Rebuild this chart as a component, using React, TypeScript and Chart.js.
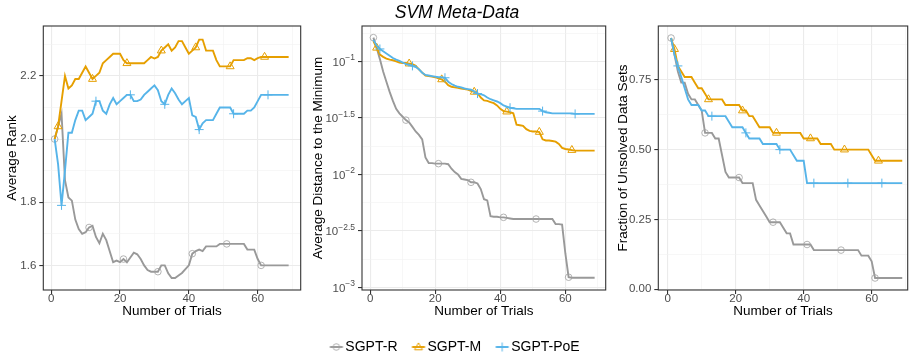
import React, { useEffect, useRef } from 'react';
import { Chart, registerables } from 'chart.js';

Chart.register(...registerables);

const FONT = '"Liberation Sans", Arial, Helvetica, sans-serif';
Chart.defaults.font.family = FONT;

// ---------------- data ----------------
const trials = [
  1, 2, 3, 4, 5, 6, 7, 8, 9, 10,
  11, 12, 13, 14, 15, 16, 17, 18, 19, 20,
  21, 22, 23, 24, 25, 26, 27, 28, 29, 30,
  31, 32, 33, 34, 35, 36, 37, 38, 39, 40,
  41, 42, 43, 44, 45, 46, 47, 48, 49, 50,
  51, 52, 53, 54, 55, 56, 57, 58, 59, 60,
  61, 62, 63, 64, 65, 66, 67, 68, 69,
];

const seriesNames = ['SGPT-R', 'SGPT-M', 'SGPT-PoE'];

const markerTrialsR = [1, 11, 21, 31, 41, 51, 61];
const markerTrialsM = [2, 12, 22, 32, 42, 52, 62];
const markerTrialsPoE = [3, 13, 23, 33, 43, 53, 63];

// Panel 1: Average Rank
const rankR = [
  2.00, 2.04, 2.08, 1.87, 1.815, 1.805, 1.745, 1.715, 1.70, 1.705,
  1.72, 1.725, 1.69, 1.67, 1.70, 1.68, 1.645, 1.61, 1.615, 1.61,
  1.62, 1.61, 1.625, 1.64, 1.635, 1.62, 1.60, 1.585, 1.58, 1.58,
  1.58, 1.60, 1.60, 1.575, 1.56, 1.56, 1.568, 1.576, 1.588, 1.60,
  1.637, 1.645, 1.65, 1.645, 1.66, 1.66, 1.66, 1.66, 1.668, 1.668,
  1.668, 1.668, 1.668, 1.668, 1.668, 1.668, 1.65, 1.65, 1.65, 1.62,
  1.60, 1.60, 1.60, 1.60, 1.60, 1.60, 1.60, 1.60, 1.60,
];
const rankM = [
  2.00, 2.04, 2.12, 2.20, 2.16, 2.17, 2.19, 2.19, 2.21, 2.23,
  2.21, 2.19, 2.20, 2.21, 2.24, 2.25, 2.26, 2.27, 2.27, 2.27,
  2.25, 2.24, 2.24, 2.24, 2.24, 2.24, 2.24, 2.25, 2.26, 2.255,
  2.26, 2.28, 2.29, 2.30, 2.28, 2.29, 2.31, 2.31, 2.29, 2.27,
  2.28, 2.29, 2.315, 2.315, 2.28, 2.28, 2.28, 2.25, 2.23, 2.23,
  2.23, 2.23, 2.25, 2.25, 2.25, 2.25, 2.256, 2.256, 2.25, 2.256,
  2.26, 2.26, 2.26, 2.26, 2.26, 2.26, 2.26, 2.26, 2.26,
];
const rankPoE = [
  2.00, 1.92, 1.79, 1.90, 2.02, 2.02, 2.06, 2.09, 2.09, 2.06,
  2.07, 2.08, 2.12, 2.12, 2.09, 2.08, 2.11, 2.13, 2.11, 2.12,
  2.13, 2.14, 2.14, 2.12, 2.12, 2.125, 2.14, 2.15, 2.16, 2.17,
  2.155, 2.12, 2.11, 2.14, 2.16, 2.145, 2.125, 2.11, 2.12, 2.13,
  2.075, 2.07, 2.03, 2.05, 2.06, 2.06, 2.06, 2.08, 2.10, 2.10,
  2.10, 2.10, 2.08, 2.08, 2.08, 2.08, 2.09, 2.09, 2.10, 2.12,
  2.14, 2.14, 2.14, 2.14, 2.14, 2.14, 2.14, 2.14, 2.14,
];

// Panel 2: Average Distance to the Minimum (read as log10 of the distance)
const distLog10R = [
  -0.79, -0.88, -0.98, -1.09, -1.18, -1.27, -1.35, -1.42, -1.46, -1.49,
  -1.52, -1.54, -1.58, -1.62, -1.65, -1.69, -1.85, -1.90, -1.90, -1.905,
  -1.905, -1.905, -1.905, -1.91, -1.95, -1.98, -2.00, -2.04, -2.045, -2.05,
  -2.07, -2.07, -2.08, -2.13, -2.22, -2.23, -2.37, -2.375, -2.375, -2.38,
  -2.38, -2.385, -2.39, -2.395, -2.395, -2.395, -2.395, -2.395, -2.395, -2.395,
  -2.395, -2.395, -2.395, -2.395, -2.395, -2.395, -2.44, -2.44, -2.445, -2.70,
  -2.91, -2.915, -2.915, -2.915, -2.915, -2.915, -2.915, -2.915, -2.915,
];
const distLog10M = [
  -0.82, -0.88, -0.94, -0.96, -0.975, -0.985, -0.99, -1.00, -1.01, -1.015,
  -1.015, -1.02, -1.025, -1.04, -1.07, -1.10, -1.125, -1.13, -1.135, -1.14,
  -1.15, -1.16, -1.18, -1.21, -1.225, -1.23, -1.235, -1.24, -1.245, -1.25,
  -1.26, -1.27, -1.28, -1.32, -1.345, -1.35, -1.36, -1.37, -1.39, -1.42,
  -1.44, -1.445, -1.45, -1.46, -1.56, -1.565, -1.57, -1.60, -1.615, -1.62,
  -1.62, -1.625, -1.69, -1.70, -1.70, -1.705, -1.71, -1.73, -1.765, -1.775,
  -1.78, -1.785, -1.79, -1.79, -1.79, -1.79, -1.79, -1.79, -1.79,
];
const distLog10PoE = [
  -0.81, -0.86, -0.89, -0.91, -0.93, -0.95, -0.97, -0.985, -0.995, -1.01,
  -1.025, -1.03, -1.04, -1.05, -1.07, -1.10, -1.12, -1.125, -1.13, -1.135,
  -1.14, -1.14, -1.145, -1.18, -1.20, -1.215, -1.225, -1.23, -1.24, -1.245,
  -1.25, -1.265, -1.285, -1.29, -1.30, -1.32, -1.335, -1.345, -1.355, -1.37,
  -1.39, -1.40, -1.41, -1.415, -1.42, -1.42, -1.42, -1.42, -1.42, -1.42,
  -1.42, -1.42, -1.44, -1.45, -1.455, -1.46, -1.46, -1.46, -1.46, -1.46,
  -1.46, -1.46, -1.465, -1.465, -1.465, -1.465, -1.465, -1.465, -1.465,
];

// Panel 3: Fraction of Unsolved Data Sets
const fracR = [
  0.90, 0.84, 0.78, 0.74, 0.74, 0.70, 0.68, 0.68, 0.66, 0.64,
  0.56, 0.56, 0.56, 0.54, 0.54, 0.48, 0.42, 0.40, 0.40, 0.40,
  0.40, 0.38, 0.38, 0.38, 0.38, 0.32, 0.30, 0.28, 0.26, 0.24,
  0.24, 0.24, 0.24, 0.22, 0.20, 0.20, 0.16, 0.16, 0.16, 0.16,
  0.16, 0.16, 0.14, 0.14, 0.14, 0.14, 0.14, 0.14, 0.14, 0.14,
  0.14, 0.14, 0.14, 0.14, 0.14, 0.14, 0.12, 0.12, 0.12, 0.10,
  0.04, 0.04, 0.04, 0.04, 0.04, 0.04, 0.04, 0.04, 0.04,
];
const fracM = [
  0.90, 0.86, 0.80, 0.78, 0.76, 0.76, 0.76, 0.74, 0.72, 0.72,
  0.70, 0.68, 0.68, 0.68, 0.68, 0.68, 0.66, 0.66, 0.66, 0.66,
  0.66, 0.64, 0.64, 0.62, 0.62, 0.60, 0.58, 0.58, 0.58, 0.58,
  0.56, 0.56, 0.56, 0.56, 0.56, 0.56, 0.56, 0.56, 0.56, 0.54,
  0.54, 0.54, 0.54, 0.54, 0.52, 0.52, 0.52, 0.52, 0.50, 0.50,
  0.50, 0.50, 0.50, 0.50, 0.50, 0.50, 0.50, 0.50, 0.50, 0.48,
  0.46, 0.46, 0.46, 0.46, 0.46, 0.46, 0.46, 0.46, 0.46,
];
const fracPoE = [
  0.90, 0.84, 0.80, 0.76, 0.72, 0.68, 0.66, 0.66, 0.66, 0.64,
  0.64, 0.62, 0.62, 0.62, 0.62, 0.62, 0.62, 0.60, 0.58, 0.58,
  0.58, 0.58, 0.56, 0.54, 0.54, 0.54, 0.54, 0.52, 0.52, 0.52,
  0.52, 0.52, 0.50, 0.50, 0.50, 0.50, 0.48, 0.46, 0.46, 0.46,
  0.38, 0.38, 0.38, 0.38, 0.38, 0.38, 0.38, 0.38, 0.38, 0.38,
  0.38, 0.38, 0.38, 0.38, 0.38, 0.38, 0.38, 0.38, 0.38, 0.38,
  0.38, 0.38, 0.38, 0.38, 0.38, 0.38, 0.38, 0.38, 0.38,
];

// tick values
const xMajorTicks = [0, 20, 40, 60];
const xMinorTicks = [10, 30, 50, 70];
const rankMajorTicks = [1.6, 1.8, 2.0, 2.2];
const rankMinorTicks = [1.7, 1.9, 2.1, 2.3];
const distMajorExp = [-1, -1.5, -2, -2.5, -3];
const distMinorExp = [-0.75, -1.25, -1.75, -2.25, -2.75];
const fracMajorTicks = [0, 0.25, 0.5, 0.75];
const fracMinorTicks = [0.125, 0.375, 0.625, 0.875];

// ---------------- styles ----------------
const COL_R = '#999999';
const COL_M = '#E69F00';
const COL_POE = '#56B4E9';
const MARK_R = 'rgba(160,160,160,0.8)';
const TICK_COL = '#4D4D4D';
const TICK_FONT = 11.5;
const TITLE_FONT = 13.5;
const X_AXIS_H = 32;
const CANVAS_H = 322;
const PLOT_TOP = 26;

function mergeTicks(major: number[], minor: number[]) {
  return [
    ...major.map((v) => ({ value: v, m: true })),
    ...minor.map((v) => ({ value: v, m: false })),
  ].sort((a, b) => a.value - b.value);
}

function gridOpts() {
  return {
    color: (c: any) => (c.tick && c.tick.m ? '#EBEBEB' : '#F2F2F2'),
    lineWidth: (c: any) => (c.tick && c.tick.m ? 1.1 : 0.6),
    tickColor: (c: any) => (c.tick && c.tick.m ? '#333333' : 'rgba(0,0,0,0)'),
    tickWidth: 1.1,
    tickLength: 4,
    drawTicks: true,
  };
}

function xAxis(min: number, max: number) {
  return {
    type: 'linear',
    position: 'bottom',
    min,
    max,
    afterBuildTicks: (s: any) => {
      s.ticks = mergeTicks(xMajorTicks, xMinorTicks);
    },
    afterFit: (s: any) => {
      s.height = X_AXIS_H;
    },
    ticks: {
      autoSkip: false,
      maxRotation: 0,
      color: TICK_COL,
      font: { size: TICK_FONT },
      padding: -2,
      callback: (v: number, i: number, ts: any[]) => (ts[i] && ts[i].m ? String(v) : ''),
    },
    grid: gridOpts(),
    border: { display: false },
    title: {
      display: true,
      text: 'Number of Trials',
      color: '#000000',
      font: { size: TITLE_FONT },
      padding: { top: 0, bottom: 2.5 },
    },
  };
}

function yTitle(text: string, padTop: number) {
  return {
    display: true,
    text,
    color: '#000000',
    font: { size: TITLE_FONT },
    padding: { top: padTop, bottom: 0 },
  };
}

function makeDatasets(r: number[], m: number[], p: number[], conv: (v: number) => number) {
  const mk = (
    label: string,
    vals: number[],
    color: string,
    markColor: string,
    markers: number[],
    style: string,
    radius: number,
    order: number
  ) => ({
    label,
    data: trials.map((t, i) => ({ x: t, y: conv(vals[i]) })),
    borderColor: color,
    borderWidth: 1.9,
    tension: 0,
    fill: false,
    pointStyle: style,
    pointRadius: (c: any) => (markers.includes(trials[c.dataIndex]) ? radius : 0),
    pointHoverRadius: 0,
    pointBorderColor: markColor,
    pointBackgroundColor: 'rgba(0,0,0,0)',
    pointBorderWidth: 1,
    order,
  });
  return [
    mk(seriesNames[0], r, COL_R, MARK_R, markerTrialsR, 'circle', 3.3, 3),
    mk(seriesNames[1], m, COL_M, COL_M, markerTrialsM, 'triangle', 4.6, 2),
    mk(seriesNames[2], p, COL_POE, COL_POE, markerTrialsPoE, 'cross', 4.5, 1),
  ];
}

const panelBorder = {
  id: 'panelBorder',
  afterDraw(chart: any) {
    const { ctx, chartArea: a } = chart;
    ctx.save();
    ctx.strokeStyle = '#333333';
    ctx.lineWidth = 1.1;
    ctx.strokeRect(a.left, a.top, a.right - a.left, a.bottom - a.top);
    ctx.restore();
  },
};

const logTickLabels = {
  id: 'logTickLabels',
  afterDraw(chart: any) {
    const s = chart.scales.y;
    const ctx = chart.ctx;
    const xr = s.right - 4 - 3;
    ctx.save();
    ctx.fillStyle = TICK_COL;
    ctx.textBaseline = 'middle';
    ctx.textAlign = 'left';
    distMajorExp.forEach((e) => {
      const y = s.getPixelForValue(Math.pow(10, e));
      const expText = '\u2212' + String(Math.abs(e));
      ctx.font = `8.5px ${FONT}`;
      const ew = ctx.measureText(expText).width;
      ctx.font = `${TICK_FONT}px ${FONT}`;
      const bw = ctx.measureText('10').width;
      ctx.fillText('10', xr - ew - bw, y + 1);
      ctx.font = `8.5px ${FONT}`;
      ctx.fillText(expText, xr - ew, y - 3.5);
    });
    ctx.restore();
  },
};

function baseOptions(padRight: number) {
  return {
    animation: false,
    responsive: false,
    devicePixelRatio: 1,
    events: [],
    layout: { padding: { left: 0, top: PLOT_TOP, right: padRight, bottom: 0 } },
    plugins: { legend: { display: false }, tooltip: { enabled: false } },
  };
}

function keyImage(kind: string, line: string, mark: string) {
  const c = document.createElement('canvas');
  c.width = 16;
  c.height = 14;
  const g = c.getContext('2d') as CanvasRenderingContext2D;
  g.strokeStyle = line;
  g.lineWidth = 1.9;
  g.beginPath();
  g.moveTo(1.5, 7);
  g.lineTo(14.5, 7);
  g.stroke();
  g.strokeStyle = mark;
  g.lineWidth = 1;
  g.beginPath();
  if (kind === 'circle') {
    g.arc(8, 7, 3.3, 0, Math.PI * 2);
  } else if (kind === 'triangle') {
    const r = 4.6;
    for (let k = 0; k < 3; k++) {
      const a = (k * 2 * Math.PI) / 3;
      const px = 8 + Math.sin(a) * r;
      const py = 7.5 - Math.cos(a) * r;
      if (k === 0) g.moveTo(px, py);
      else g.lineTo(px, py);
    }
    g.closePath();
  } else {
    g.moveTo(8, 2.5);
    g.lineTo(8, 11.5);
    g.moveTo(3.5, 7);
    g.lineTo(12.5, 7);
  }
  g.stroke();
  return c;
}

export default function App() {
  const c1 = useRef<HTMLCanvasElement>(null);
  const c2 = useRef<HTMLCanvasElement>(null);
  const c3 = useRef<HTMLCanvasElement>(null);
  const cl = useRef<HTMLCanvasElement>(null);

  useEffect(() => {
    const charts: Chart[] = [];

    charts.push(
      new Chart(c1.current as HTMLCanvasElement, {
        type: 'line',
        data: { datasets: makeDatasets(rankR, rankM, rankPoE, (v) => v) as any },
        options: {
          ...baseOptions(2.3),
          scales: {
            x: xAxis(-2.3, 72.5),
            y: {
              type: 'linear',
              min: 1.522,
              max: 2.358,
              afterBuildTicks: (s: any) => {
                s.ticks = mergeTicks(rankMajorTicks, rankMinorTicks);
              },
              afterFit: (s: any) => {
                s.width = 43.3;
              },
              ticks: {
                autoSkip: false,
                color: TICK_COL,
                font: { size: TICK_FONT },
                padding: 3,
                callback: (v: number, i: number, ts: any[]) => (ts[i] && ts[i].m ? v.toFixed(1) : ''),
              },
              grid: gridOpts(),
              border: { display: false },
              title: yTitle('Average Rank', 4.2),
            },
          },
        } as any,
        plugins: [panelBorder],
      })
    );

    charts.push(
      new Chart(c2.current as HTMLCanvasElement, {
        type: 'line',
        data: { datasets: makeDatasets(distLog10R, distLog10M, distLog10PoE, (v) => Math.pow(10, v)) as any },
        options: {
          ...baseOptions(2.7),
          scales: {
            x: xAxis(-2.5, 72.4),
            y: {
              type: 'logarithmic',
              min: Math.pow(10, -3.023),
              max: Math.pow(10, -0.687),
              afterBuildTicks: (s: any) => {
                s.ticks = mergeTicks(
                  distMajorExp.map((e) => Math.pow(10, e)),
                  distMinorExp.map((e) => Math.pow(10, e))
                );
              },
              afterFit: (s: any) => {
                s.width = 57;
              },
              ticks: {
                autoSkip: false,
                color: TICK_COL,
                font: { size: TICK_FONT },
                padding: 3,
                callback: () => '',
              },
              grid: gridOpts(),
              border: { display: false },
              title: yTitle('Average Distance to the Minimum', 4.9),
            },
          },
        } as any,
        plugins: [panelBorder, logTickLabels],
      })
    );

    charts.push(
      new Chart(c3.current as HTMLCanvasElement, {
        type: 'line',
        data: { datasets: makeDatasets(fracR, fracM, fracPoE, (v) => v) as any },
        options: {
          ...baseOptions(6.3),
          scales: {
            x: xAxis(-2.76, 70.6),
            y: {
              type: 'linear',
              min: -0.003,
              max: 0.943,
              afterBuildTicks: (s: any) => {
                s.ticks = mergeTicks(fracMajorTicks, fracMinorTicks);
              },
              afterFit: (s: any) => {
                s.width = 48.3;
              },
              ticks: {
                autoSkip: false,
                color: TICK_COL,
                font: { size: TICK_FONT },
                padding: 3,
                callback: (v: number, i: number, ts: any[]) => (ts[i] && ts[i].m ? v.toFixed(2) : ''),
              },
              grid: gridOpts(),
              border: { display: false },
              title: yTitle('Fraction of Unsolved Data Sets', 4.9),
            },
          },
        } as any,
        plugins: [panelBorder],
      })
    );

    const keyImgs = [
      keyImage('circle', COL_R, MARK_R),
      keyImage('triangle', COL_M, COL_M),
      keyImage('plus', COL_POE, COL_POE),
    ];

    charts.push(
      new Chart(cl.current as HTMLCanvasElement, {
        type: 'line',
        data: { datasets: seriesNames.map((n) => ({ label: n, data: [] })) },
        options: {
          animation: false,
          responsive: false,
          devicePixelRatio: 1,
          events: [],
          layout: { padding: 0 },
          scales: { x: { display: false }, y: { display: false } },
          plugins: {
            tooltip: { enabled: false },
            legend: {
              display: true,
              position: 'top',
              align: 'center',
              labels: {
                usePointStyle: true,
                pointStyleWidth: 4,
                padding: 19,
                color: '#000000',
                font: { size: 14 },
                generateLabels: () =>
                  seriesNames.map((n, i) => ({
                    text: n,
                    pointStyle: keyImgs[i],
                    fillStyle: 'rgba(0,0,0,0)',
                    strokeStyle: 'rgba(0,0,0,0)',
                    lineWidth: 0,
                    hidden: false,
                    datasetIndex: i,
                  })),
              },
            },
          },
        } as any,
      })
    );

    return () => {
      charts.forEach((c) => c.destroy());
    };
  }, []);

  const abs = (left: number, top: number): React.CSSProperties => ({ position: 'absolute', left, top });

  return (
    <div
      style={{
        position: 'fixed',
        left: 0,
        top: 0,
        width: 914,
        height: 358,
        overflow: 'hidden',
        background: '#ffffff',
      }}
    >
      <canvas ref={c1} width={305} height={CANVAS_H} style={abs(0, 0)} />
      <canvas ref={c2} width={305} height={CANVAS_H} style={abs(305, 0)} />
      <canvas ref={c3} width={304} height={CANVAS_H} style={abs(610, 0)} />
      <canvas ref={cl} width={914} height={120} style={abs(0, 321)} />
      <div
        style={{
          position: 'absolute',
          left: 0,
          top: 2,
          width: 914,
          textAlign: 'center',
          fontFamily: FONT,
          fontStyle: 'italic',
          fontSize: 17.5,
          lineHeight: '20px',
          color: '#000000',
        }}
      >
        SVM Meta-Data
      </div>
    </div>
  );
}
